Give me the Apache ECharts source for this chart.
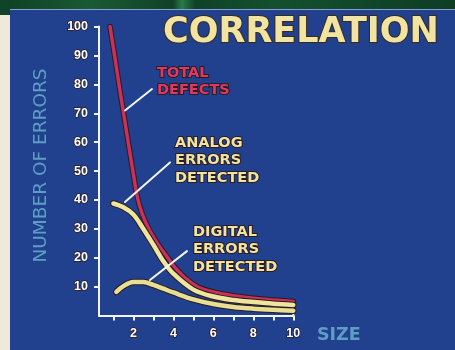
<!DOCTYPE html>
<html>
<head>
<meta charset="utf-8">
<script src="https://cdn.jsdelivr.net/npm/echarts@6/dist/echarts.min.js"></script>
<style>
  html, body { margin: 0; padding: 0; background: #efe9db; }
  #stage { position: relative; width: 455px; height: 350px; overflow: hidden; background: #efe9db; }
  #board { position: absolute; left: 0; top: 0; width: 455px; height: 10px;
           background: linear-gradient(90deg, #0f3f25 0%, #1a5a35 20%, #0f4227 38%, #2a7a48 40%, #0f4227 43%, #145030 60%, #0e3d24 100%); }
  #boardLeft { position: absolute; left: 0; top: 0; width: 10px; height: 15px; background: #10442a; }
  #panel { position: absolute; left: 10px; top: 9px; right: 0; bottom: 0;
           background: #21408e; border-top: 1px solid #8c9dcc; }
  #chart { position: absolute; left: 0; top: 0; width: 455px; height: 350px; }
</style>
</head>
<body>
<div id="stage">
  <div id="board"></div>
  <div id="boardLeft"></div>
  <div id="panel"></div>
  <div id="chart"></div>
</div>
<script>
// Error counts against design size
const totalSize     = [0.83, 1.06, 1.28, 1.51, 1.74, 2.0, 2.2, 2.45, 2.8, 3.2, 3.7, 4.1, 4.6, 5.2, 6, 7, 8, 9, 10];
const totalDefects  = [100, 90, 80, 70, 60, 49, 41, 35, 29.6, 25, 20.2, 16.5, 13, 10, 8.2, 6.9, 6, 5.4, 4.9];

const analogSize    = [1.0, 1.5, 2.0, 2.5, 3.0, 3.5, 4.0, 5.0, 6.0, 7.0, 8.0, 9.0, 10.0];
const analogErrors  = [38.8, 37.5, 35, 30, 24.5, 18.8, 14.5, 9, 6.6, 5.4, 4.7, 4.1, 3.7];

const digitalSize   = [1.15, 1.5, 2.0, 2.5, 3.0, 3.5, 4.0, 5.0, 6.0, 7.0, 8.0, 9.0, 10.0];
const digitalErrors = [8.2, 10.2, 11.6, 11.6, 10.6, 9.3, 8.0, 5.6, 4.0, 3.0, 2.4, 2.0, 1.7];

// Axis ticks and labels
const yTickValues = [10, 20, 30, 40, 50, 60, 70, 80, 90, 100];
const xTickValues = [1, 2, 3, 4, 5, 6, 7, 8, 9, 10];
const xLabelValues = [2, 4, 6, 8, 10];

// Callout leader lines (from curve to caption), in data units
const totalLeader   = [[1.58, 71], [2.93, 78.4]];
const analogLeader  = [[1.58, 39.3], [3.83, 53]];
const digitalLeader = [[2.83, 12.3], [4.68, 22.3]];
const axisEndCap    = [[10, 0], [10, 3.6]];

const zip = (xs, ys) => xs.map((x, i) => [x, ys[i]]);

const CREAM = '#f1e4a3';
const RED = '#c9305a';
const PINK = '#dc3a63';
const TEAL = '#5c9fc3';
const OUTLINE = '#2a1c22';
const FONT = 'DejaVu Sans';
const TICK_FONT = 'Liberation Sans';

function curve(name, data, color, width, z) {
  return {
    name, type: 'line', data, smooth: 0.35, symbol: 'none', z,
    lineStyle: { color, width, cap: 'round', join: 'round' },
    silent: true, animation: false
  };
}

function leader(data) {
  return {
    type: 'line', data, symbol: 'none', z: 10, silent: true, animation: false,
    lineStyle: { color: '#f4f4f0', width: 2, cap: 'round' }
  };
}

function caption(text, x, y, fill, size) {
  return {
    type: 'text', x, y, z: 20,
    style: {
      text, fill, font: 'bold ' + size + 'px "' + FONT + '"',
      lineHeight: 17.5, textAlign: 'left', textVerticalAlign: 'top',
      stroke: OUTLINE, lineWidth: 2, strokeFirst: true,
      shadowColor: 'rgba(15,10,15,0.8)', shadowOffsetX: 1, shadowOffsetY: 1, shadowBlur: 1
    }
  };
}

const tickLabel = {
  margin: 11, color: '#ffffff',
  fontFamily: TICK_FONT, fontWeight: 'bold', fontSize: 12.5,
  textBorderColor: OUTLINE, textBorderWidth: 1.5
};

const chart = echarts.init(document.getElementById('chart'), null, { renderer: 'canvas' });

chart.setOption({
  backgroundColor: 'transparent',
  animation: false,
  grid: { left: 99, right: 161.7, top: 26.6, bottom: 34.4, containLabel: false },
  xAxis: {
    type: 'value', min: 0.28, max: 10,
    axisLine: { show: true, lineStyle: { color: '#f4f4f0', width: 2 } },
    axisTick: { show: true, customValues: xTickValues, length: 5, lineStyle: { color: '#f4f4f0', width: 2 } },
    axisLabel: Object.assign({ customValues: xLabelValues }, tickLabel),
    splitLine: { show: false }
  },
  yAxis: {
    type: 'value', min: 0, max: 100, interval: 10,
    axisLine: { show: true, lineStyle: { color: '#f4f4f0', width: 2 } },
    axisTick: { show: true, customValues: yTickValues, length: 5, lineStyle: { color: '#f4f4f0', width: 2 } },
    axisLabel: Object.assign({ customValues: yTickValues }, tickLabel),
    splitLine: { show: false }
  },
  graphic: [
    {
      type: 'text', x: 163, y: 32.5, z: 20,
      style: {
        text: 'CORRELATION', fill: CREAM, font: 'bold 35px "' + FONT + '"',
        textAlign: 'left', textVerticalAlign: 'middle',
        stroke: '#3a2a1a', lineWidth: 2, strokeFirst: true,
        shadowColor: 'rgba(30,20,10,0.9)', shadowOffsetX: 2, shadowOffsetY: 2, shadowBlur: 1
      }
    },
    {
      type: 'text', x: 41.5, y: 165.5, rotation: Math.PI / 2, z: 20,
      style: {
        text: 'NUMBER OF ERRORS', fill: TEAL, font: '18.5px "' + FONT + '"',
        textAlign: 'center', textVerticalAlign: 'middle'
      }
    },
    {
      type: 'text', x: 317, y: 335, z: 20,
      style: {
        text: 'SIZE', fill: TEAL, font: 'bold 17.5px "' + FONT + '"',
        textAlign: 'left', textVerticalAlign: 'middle'
      }
    },
    caption('TOTAL\nDEFECTS', 157, 64, PINK, 14.5),
    caption('ANALOG\nERRORS\nDETECTED', 175, 134, CREAM, 14.5),
    caption('DIGITAL\nERRORS\nDETECTED', 193, 223, CREAM, 14.5)
  ],
  series: [
    curve('Total defects outline', zip(totalSize, totalDefects), OUTLINE, 5.5, 2),
    curve('Total defects', zip(totalSize, totalDefects), RED, 3.5, 3),
    curve('Analog errors outline', zip(analogSize, analogErrors), OUTLINE, 6.5, 4),
    curve('Analog errors detected', zip(analogSize, analogErrors), '#efe59c', 4.5, 5),
    curve('Digital errors outline', zip(digitalSize, digitalErrors), OUTLINE, 6.5, 4),
    curve('Digital errors detected', zip(digitalSize, digitalErrors), '#e8df92', 4.5, 5),
    leader(totalLeader),
    leader(analogLeader),
    leader(digitalLeader),
    {
      type: 'line', data: axisEndCap, symbol: 'none', z: 1, silent: true, animation: false,
      lineStyle: { color: '#f4f4f0', width: 2 }
    }
  ]
});
</script>
</body>
</html>
